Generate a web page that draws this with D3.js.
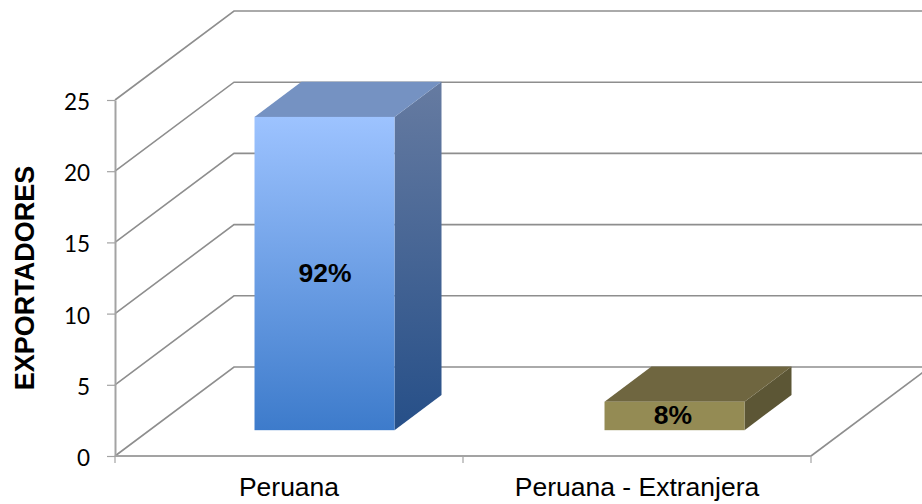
<!DOCTYPE html>
<html>
<head>
<meta charset="utf-8">
<script src="https://cdn.jsdelivr.net/npm/d3@7"></script>
<style>
  html, body { margin: 0; padding: 0; background: #fff; }
  svg { display: block; font-family: "Liberation Sans", Arial, sans-serif; }
</style>
</head>
<body>
<div id="container"></div>
<script>
/* DATA */
const categories = ["Peruana", "Peruana - Extranjera"];
const exportadores = [22, 2];
const percentLabels = ["92%", "8%"];
const yTicks = [0, 5, 10, 15, 20, 25];

/* CONSTANTS */
const width = 922, height = 504;
const plot = { left: 115, right: 811, bottom: 456, top: 100 };
// how far the back wall sits from the front of the box
const depth = { x: 119, y: -89 };
const barDepth = { start: 0.29, end: 0.685 };
const gridColor = "#8e8e8e";
const axisColor = "#a3a3a3";

const svg = d3.select("#container").append("svg")
  .attr("width", width)
  .attr("height", height);

/* SCALES */
const xScale = d3.scaleBand()
  .domain(categories)
  .range([plot.left, plot.right]);

// bars sit a touch wider apart than the axis ticks in the reference
const barScale = d3.scaleBand()
  .domain(categories)
  .range([plot.left, plot.right + 4]);

const yScale = d3.scaleLinear()
  .domain([0, 25])
  .range([plot.bottom, plot.top]);

const barWidth = 140;
const barOffset = (barScale.bandwidth() - barWidth) / 2;

// gradients for the two faces of the blue bar
const defs = svg.append("defs");
function addGradient(id, top, bottom) {
  const g = defs.append("linearGradient")
    .attr("id", id)
    .attr("x1", 0).attr("y1", 0).attr("x2", 0).attr("y2", 1);
  g.append("stop").attr("offset", "0%").attr("stop-color", top);
  g.append("stop").attr("offset", "100%").attr("stop-color", bottom);
}
addGradient("blueFront", "#9DC3FF", "#3D7BCB");
addGradient("blueSide", "#667BA1", "#264F88");

/* GRIDLINES: side wall then back wall */
svg.selectAll("path.grid")
  .data(yTicks)
  .join("path")
  .attr("class", "grid")
  .attr("fill", "none")
  .attr("stroke", gridColor)
  .attr("stroke-width", 1.6)
  .attr("d", d => {
    const y = yScale(d);
    return d3.line()([
      [plot.left, y],
      [plot.left + depth.x, y + depth.y],
      [width + 2, y + depth.y]
    ]);
  });

// floor, right edge
svg.append("path")
  .attr("fill", "none")
  .attr("stroke", gridColor)
  .attr("stroke-width", 1.6)
  .attr("d", d3.line()([
    [plot.right, plot.bottom],
    [plot.right + depth.x, plot.bottom + depth.y]
  ]));

/* AXES */
const yAxis = d3.axisLeft(yScale)
  .tickValues(yTicks)
  .tickSize(8)
  .tickSizeOuter(0)
  .tickPadding(17);

svg.append("g")
  .attr("transform", `translate(${plot.left},0)`)
  .call(yAxis)
  .call(g => g.selectAll(".domain").attr("stroke", axisColor).attr("stroke-width", 2))
  .call(g => g.selectAll("line").attr("stroke", axisColor).attr("stroke-width", 1.2))
  .call(g => g.selectAll("text")
    .attr("fill", "#000")
    .attr("dy", "0.42em")
    .style("font-size", "22.5px")
    .style("font-family", "Lato, sans-serif"));

const xTickPositions = [plot.left, plot.left + xScale.step(), plot.right];

svg.append("line")
  .attr("x1", plot.left).attr("x2", plot.right)
  .attr("y1", plot.bottom).attr("y2", plot.bottom)
  .attr("stroke", axisColor)
  .attr("stroke-width", 2);

svg.selectAll("line.xtick")
  .data(xTickPositions)
  .join("line")
  .attr("class", "xtick")
  .attr("x1", d => d).attr("x2", d => d)
  .attr("y1", plot.bottom).attr("y2", plot.bottom + 7)
  .attr("stroke", axisColor)
  .attr("stroke-width", 1.2);

svg.selectAll("text.cat")
  .data(categories)
  .join("text")
  .attr("class", "cat")
  .attr("x", d => xScale(d) + xScale.bandwidth() / 2)
  .attr("y", 496)
  .attr("text-anchor", "middle")
  .style("font-size", "26.5px")
  .text(d => d);

/* BARS: three faces each */
const colors = [
  { front: "url(#blueFront)", top: "#7592C2", side: "url(#blueSide)" },
  { front: "#948B54", top: "#6F6640", side: "#5C5635" }
];

const rows = categories.map((c, i) => ({
  cat: c,
  value: exportadores[i],
  label: percentLabels[i],
  color: colors[i]
}));

const bars = svg.selectAll("g.bar")
  .data(rows)
  .join("g")
  .attr("class", "bar");

// corners of a bar, derived from the scales
function corners(d) {
  const dx0 = depth.x * barDepth.start, dy0 = depth.y * barDepth.start;
  const dx1 = depth.x * barDepth.end, dy1 = depth.y * barDepth.end;
  const x0 = barScale(d.cat) + barOffset + dx0;
  const x1 = x0 + barWidth;
  const yb = yScale(0) + dy0;
  const yt = yScale(d.value) + dy0;
  const ox = dx1 - dx0, oy = dy1 - dy0;
  return { x0, x1, yb, yt, ox, oy };
}

bars.append("path")
  .attr("fill", d => d.color.side)
  .attr("d", d => {
    const c = corners(d);
    return d3.line()([[c.x1, c.yt], [c.x1 + c.ox, c.yt + c.oy], [c.x1 + c.ox, c.yb + c.oy], [c.x1, c.yb]]) + "Z";
  });

bars.append("path")
  .attr("fill", d => d.color.top)
  .attr("d", d => {
    const c = corners(d);
    return d3.line()([[c.x0, c.yt], [c.x0 + c.ox, c.yt + c.oy], [c.x1 + c.ox, c.yt + c.oy], [c.x1, c.yt]]) + "Z";
  });

bars.append("rect")
  .attr("fill", d => d.color.front)
  .attr("x", d => corners(d).x0)
  .attr("y", d => corners(d).yt)
  .attr("width", barWidth)
  .attr("height", d => corners(d).yb - corners(d).yt);

// the percent labels follow the tick spacing, not the bar spacing
bars.append("text")
  .attr("x", d => xScale(d.cat) + xScale.bandwidth() / 2 + 36)
  .attr("y", d => (corners(d).yt + corners(d).yb) / 2 + 8.5)
  .attr("text-anchor", "middle")
  .style("font-size", "26.5px")
  .style("font-weight", "bold")
  .text(d => d.label);

/* Y TITLE */
svg.append("text")
  .attr("transform", "translate(34,278) rotate(-90)")
  .attr("text-anchor", "middle")
  .style("font-size", "27px")
  .style("font-weight", "bold")
  .text("EXPORTADORES");
</script>
</body>
</html>
